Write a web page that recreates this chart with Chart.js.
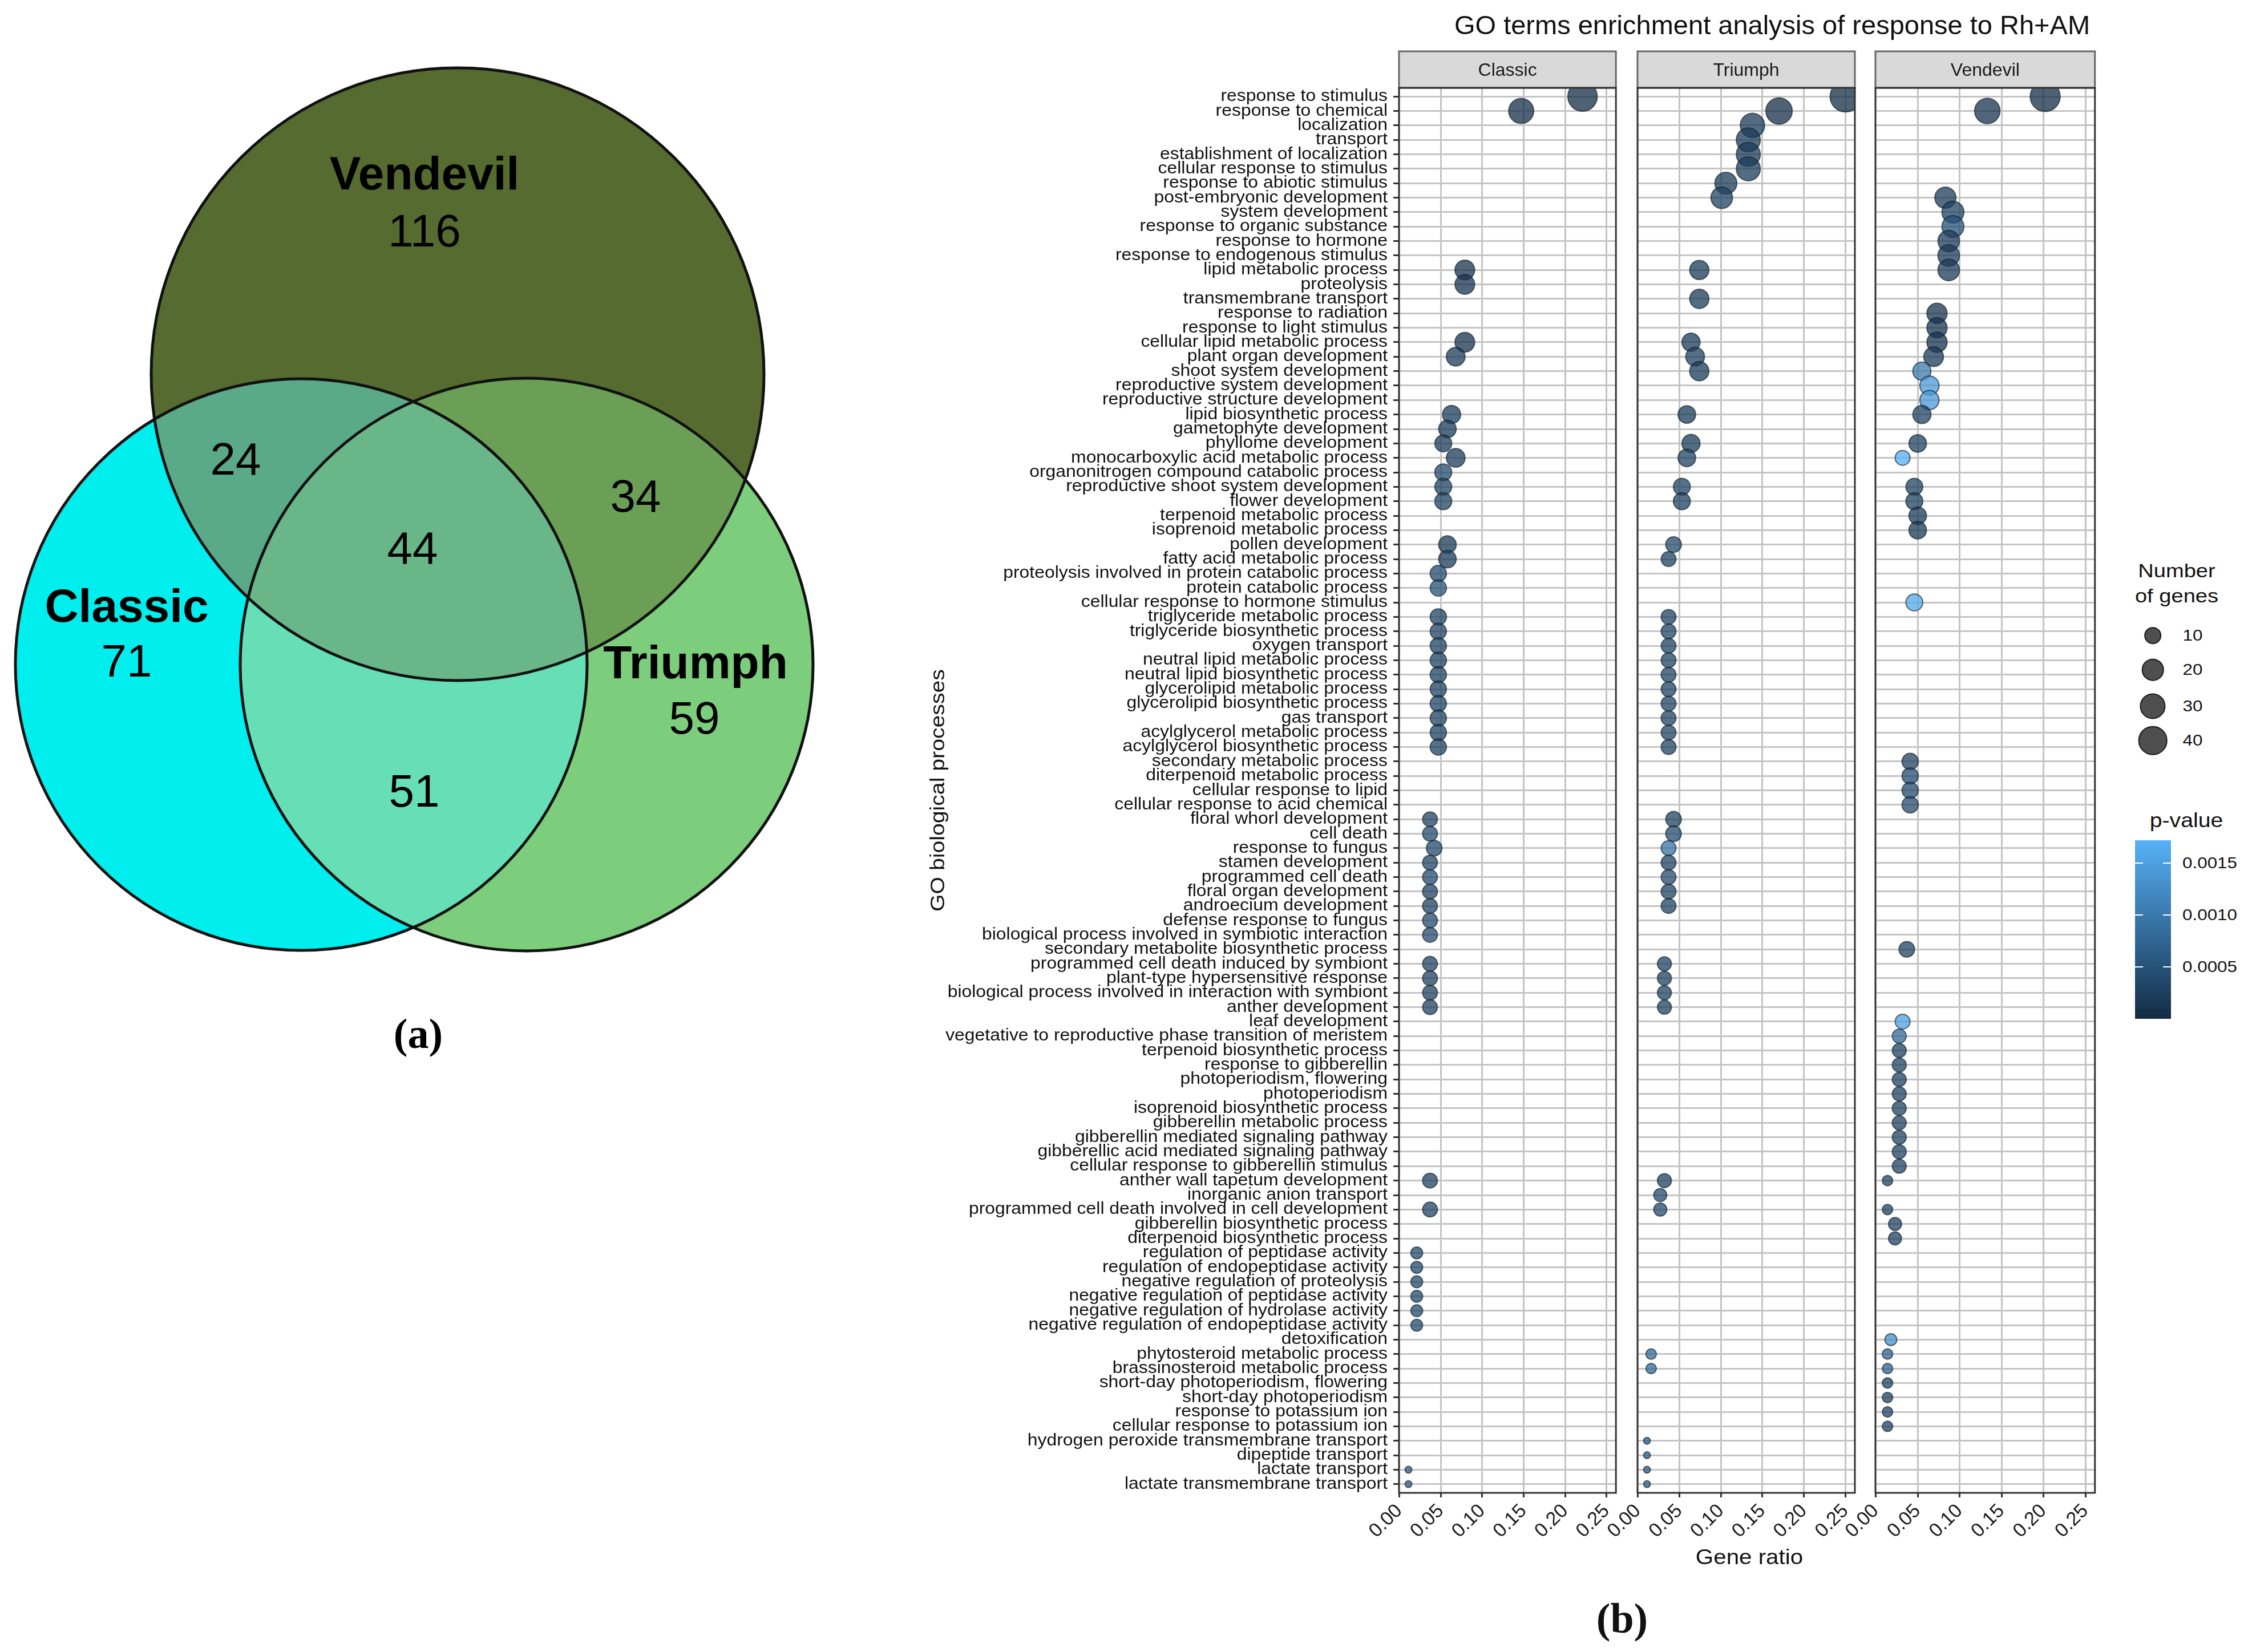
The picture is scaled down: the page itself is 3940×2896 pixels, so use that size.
<!DOCTYPE html>
<html>
<head>
<meta charset="utf-8">
<title>Venn + GO enrichment</title>
<script src="https://cdn.jsdelivr.net/npm/chart.js@4.4.1/dist/chart.umd.min.js"></script>
<style>
  html, body { margin: 0; padding: 0; background: #fff; }
  #page { position: relative; width: 3940px; height: 2896px; overflow: hidden; background: #fff;
          font-family: "Liberation Sans", Arial, sans-serif; color: #111; }
  canvas { position: absolute; }
  .txt { position: absolute; white-space: nowrap; line-height: 1; transform: translate(-50%, -50%); }
  .wide { transform: translate(-50%, -50%) scaleX(1.12); }
  .key { position: absolute; border-radius: 50%; background: rgba(35,35,35,0.8); border: 2px solid #1a1a1a;
         transform: translate(-50%, -50%); box-sizing: border-box; }
</style>
</head>
<body>
<div id="page">
  <canvas id="venn" width="1630" height="1900" style="left:0;top:0"></canvas>
  <canvas id="pClassic" width="1260" height="2896" style="left:1600px;top:0"></canvas>
  <canvas id="pTriumph" width="520" height="2896" style="left:2760px;top:0"></canvas>
  <canvas id="pVendevil" width="520" height="2896" style="left:3180px;top:0"></canvas>

  <div class="txt" style="left:3106px;top:43px;font-size:47px">GO terms enrichment analysis of response to Rh+AM</div>
  <div class="txt wide" style="left:3066px;top:2730px;font-size:36px">Gene ratio</div>
  <div class="txt" style="left:2843px;top:2837px;font-size:74px;font-weight:bold;font-family:'Liberation Serif',serif">(b)</div>

  <div class="txt wide" style="left:3815px;top:1000px;font-size:34px">Number</div>
  <div class="txt wide" style="left:3815px;top:1044px;font-size:34px">of genes</div>
  <div id="sizeKeys"></div>
  <div class="txt wide" style="left:3832px;top:1437px;font-size:35px">p-value</div>
  <div id="colorBar" style="position:absolute;left:3742px;top:1473px;width:63px;height:313px;
       background:linear-gradient(to top, #132B43, #56B1F7)"></div>
  <div id="colorKeys"></div>
</div>

<script>
// ---- Venn diagram (a) ----
const vennSets = ['Vendevil', 'Classic', 'Triumph'];
const vennRegions = ['Vendevil', 'Classic', 'Triumph', 'Classic+Vendevil', 'Vendevil+Triumph', 'Classic+Triumph', 'all three'];
const vennCounts = [116, 71, 59, 24, 34, 51, 44];

// ---- GO terms (b) ----
const _ = null;
const terms = [
  'response to stimulus', 'response to chemical', 'localization', 'transport', 'establishment of localization',
  'cellular response to stimulus', 'response to abiotic stimulus', 'post-embryonic development', 'system development', 'response to organic substance',
  'response to hormone', 'response to endogenous stimulus', 'lipid metabolic process', 'proteolysis', 'transmembrane transport',
  'response to radiation', 'response to light stimulus', 'cellular lipid metabolic process', 'plant organ development', 'shoot system development',
  'reproductive system development', 'reproductive structure development', 'lipid biosynthetic process', 'gametophyte development', 'phyllome development',
  'monocarboxylic acid metabolic process', 'organonitrogen compound catabolic process', 'reproductive shoot system development', 'flower development', 'terpenoid metabolic process',
  'isoprenoid metabolic process', 'pollen development', 'fatty acid metabolic process', 'proteolysis involved in protein catabolic process', 'protein catabolic process',
  'cellular response to hormone stimulus', 'triglyceride metabolic process', 'triglyceride biosynthetic process', 'oxygen transport', 'neutral lipid metabolic process',
  'neutral lipid biosynthetic process', 'glycerolipid metabolic process', 'glycerolipid biosynthetic process', 'gas transport', 'acylglycerol metabolic process',
  'acylglycerol biosynthetic process', 'secondary metabolic process', 'diterpenoid metabolic process', 'cellular response to lipid', 'cellular response to acid chemical',
  'floral whorl development', 'cell death', 'response to fungus', 'stamen development', 'programmed cell death',
  'floral organ development', 'androecium development', 'defense response to fungus', 'biological process involved in symbiotic interaction', 'secondary metabolite biosynthetic process',
  'programmed cell death induced by symbiont', 'plant-type hypersensitive response', 'biological process involved in interaction with symbiont', 'anther development', 'leaf development',
  'vegetative to reproductive phase transition of meristem', 'terpenoid biosynthetic process', 'response to gibberellin', 'photoperiodism, flowering', 'photoperiodism',
  'isoprenoid biosynthetic process', 'gibberellin metabolic process', 'gibberellin mediated signaling pathway', 'gibberellic acid mediated signaling pathway', 'cellular response to gibberellin stimulus',
  'anther wall tapetum development', 'inorganic anion transport', 'programmed cell death involved in cell development', 'gibberellin biosynthetic process', 'diterpenoid biosynthetic process',
  'regulation of peptidase activity', 'regulation of endopeptidase activity', 'negative regulation of proteolysis', 'negative regulation of peptidase activity', 'negative regulation of hydrolase activity',
  'negative regulation of endopeptidase activity', 'detoxification', 'phytosteroid metabolic process', 'brassinosteroid metabolic process', 'short-day photoperiodism, flowering',
  'short-day photoperiodism', 'response to potassium ion', 'cellular response to potassium ion', 'hydrogen peroxide transmembrane transport', 'dipeptide transport',
  'lactate transport', 'lactate transmembrane transport'
];

// Classic (rows 1-10, 11-20, ...)
const classicRatio = [
  0.221, 0.147, _, _, _, _, _, _, _, _,
  _, _, 0.079, 0.079, _, _, _, 0.079, 0.068, _,
  _, _, 0.063, 0.058, 0.053, 0.068, 0.053, 0.053, 0.053, _,
  _, 0.058, 0.058, 0.047, 0.047, _, 0.047, 0.047, 0.047, 0.047,
  0.047, 0.047, 0.047, 0.047, 0.047, 0.047, _, _, _, _,
  0.037, 0.037, 0.042, 0.037, 0.037, 0.037, 0.037, 0.037, 0.037, _,
  0.037, 0.037, 0.037, 0.037, _, _, _, _, _, _,
  _, _, _, _, _, 0.037, _, 0.037, _, _,
  0.021, 0.021, 0.021, 0.021, 0.021, 0.021, _, _, _, _,
  _, _, _, _, _, 0.011, 0.011
];
const classicGenes = [
  42, 28, _, _, _, _, _, _, _, _,
  _, _, 15, 15, _, _, _, 15, 13, _,
  _, _, 12, 11, 10, 13, 10, 10, 10, _,
  _, 11, 11, 9, 9, _, 9, 9, 9, 9,
  9, 9, 9, 9, 9, 9, _, _, _, _,
  7, 7, 8, 7, 7, 7, 7, 7, 7, _,
  7, 7, 7, 7, _, _, _, _, _, _,
  _, _, _, _, _, 7, _, 7, _, _,
  4, 4, 4, 4, 4, 4, _, _, _, _,
  _, _, _, _, _, 2, 2
];
const classicP = [
  0.00002, 0.00005, _, _, _, _, _, _, _, _,
  _, _, 0.0001, 0.0001, _, _, _, 0.0001, 0.0002, _,
  _, _, 0.0002, 0.0002, 0.0002, 0.0002, 0.0004, 0.0003, 0.0003, _,
  _, 0.0002, 0.0002, 0.0004, 0.0005, _, 0.0003, 0.0003, 0.0003, 0.0003,
  0.0003, 0.0003, 0.0003, 0.0003, 0.0003, 0.0003, _, _, _, _,
  0.0003, 0.0004, 0.0004, 0.0003, 0.0004, 0.0003, 0.0003, 0.0004, 0.0004, _,
  0.0003, 0.0003, 0.0003, 0.0003, _, _, _, _, _, _,
  _, _, _, _, _, 0.0003, _, 0.0003, _, _,
  0.0004, 0.0004, 0.0004, 0.0004, 0.0004, 0.0004, _, _, _, _,
  _, _, _, _, _, 0.0006, 0.0006
];

// Triumph
const triumphRatio = [
  0.250, 0.170, 0.138, 0.133, 0.133, 0.133, 0.106, 0.101, _, _,
  _, _, 0.074, _, 0.074, _, _, 0.064, 0.069, 0.074,
  _, _, 0.059, _, 0.064, 0.059, _, 0.053, 0.053, _,
  _, 0.043, 0.037, _, _, _, 0.037, 0.037, 0.037, 0.037,
  0.037, 0.037, 0.037, 0.037, 0.037, 0.037, _, _, _, _,
  0.043, 0.043, 0.037, 0.037, 0.037, 0.037, 0.037, _, _, _,
  0.032, 0.032, 0.032, 0.032, _, _, _, _, _, _,
  _, _, _, _, _, 0.032, 0.027, 0.027, _, _,
  _, _, _, _, _, _, _, 0.016, 0.016, _,
  _, _, _, 0.011, 0.011, 0.011, 0.011
];
const triumphGenes = [
  47, 32, 26, 25, 25, 25, 20, 19, _, _,
  _, _, 14, _, 14, _, _, 12, 13, 14,
  _, _, 11, _, 12, 11, _, 10, 10, _,
  _, 8, 7, _, _, _, 7, 7, 7, 7,
  7, 7, 7, 7, 7, 7, _, _, _, _,
  8, 8, 7, 7, 7, 7, 7, _, _, _,
  6, 6, 6, 6, _, _, _, _, _, _,
  _, _, _, _, _, 6, 5, 5, _, _,
  _, _, _, _, _, _, _, 3, 3, _,
  _, _, _, 2, 2, 2, 2
];
const triumphP = [
  0.00002, 0.00005, 0.0002, 0.0002, 0.0002, 0.0002, 0.0002, 0.0003, _, _,
  _, _, 0.0002, _, 0.0002, _, _, 0.0002, 0.0003, 0.0002,
  _, _, 0.0002, _, 0.0002, 0.0003, _, 0.0003, 0.0003, _,
  _, 0.0004, 0.0003, _, _, _, 0.0003, 0.0003, 0.0003, 0.0003,
  0.0003, 0.0003, 0.0003, 0.0003, 0.0003, 0.0003, _, _, _, _,
  0.0003, 0.0004, 0.0009, 0.0003, 0.0004, 0.0003, 0.0003, _, _, _,
  0.0003, 0.0003, 0.0003, 0.0003, _, _, _, _, _, _,
  _, _, _, _, _, 0.0003, 0.0004, 0.0004, _, _,
  _, _, _, _, _, _, _, 0.0008, 0.0008, _,
  _, _, _, 0.0006, 0.0006, 0.0006, 0.0006
];

// Vendevil
const vendevilRatio = [
  0.202, 0.133, _, _, _, _, _, 0.083, 0.092, 0.092,
  0.087, 0.087, 0.087, _, _, 0.073, 0.073, 0.073, 0.069, 0.055,
  0.064, 0.064, 0.055, _, 0.050, 0.032, _, 0.046, 0.046, 0.050,
  0.050, _, _, _, _, 0.046, _, _, _, _,
  _, _, _, _, _, _, 0.041, 0.041, 0.041, 0.041,
  _, _, _, _, _, _, _, _, _, 0.037,
  _, _, _, _, 0.032, 0.028, 0.028, 0.028, 0.028, 0.028,
  0.028, 0.028, 0.028, 0.028, 0.028, 0.014, _, 0.014, 0.023, 0.023,
  _, _, _, _, _, _, 0.018, 0.014, 0.014, 0.014,
  0.014, 0.014, 0.014, _, _, _, _
];
const vendevilGenes = [
  44, 29, _, _, _, _, _, 18, 20, 20,
  19, 19, 19, _, _, 16, 16, 16, 15, 12,
  14, 14, 12, _, 11, 7, _, 10, 10, 11,
  11, _, _, _, _, 10, _, _, _, _,
  _, _, _, _, _, _, 9, 9, 9, 9,
  _, _, _, _, _, _, _, _, _, 8,
  _, _, _, _, 7, 6, 6, 6, 6, 6,
  6, 6, 6, 6, 6, 3, _, 3, 5, 5,
  _, _, _, _, _, _, 4, 3, 3, 3,
  3, 3, 3, _, _, _, _
];
const vendevilP = [
  0.00002, 0.0001, _, _, _, _, _, 0.0002, 0.0003, 0.0005,
  0.0002, 0.0002, 0.0002, _, _, 0.0001, 0.0001, 0.0001, 0.0002, 0.0010,
  0.0014, 0.0014, 0.0003, _, 0.0003, 0.0017, _, 0.0003, 0.0003, 0.0002,
  0.0002, _, _, _, _, 0.0016, _, _, _, _,
  _, _, _, _, _, _, 0.0003, 0.0004, 0.0004, 0.0004,
  _, _, _, _, _, _, _, _, _, 0.0003,
  _, _, _, _, 0.0015, 0.0008, 0.0003, 0.0003, 0.0003, 0.0003,
  0.0003, 0.0003, 0.0003, 0.0003, 0.0003, 0.0003, _, 0.0003, 0.0003, 0.0003,
  _, _, _, _, _, _, 0.0013, 0.0007, 0.0007, 0.0003,
  0.0003, 0.0003, 0.0003, _, _, _, _
];

const xTicksStep = 0.05;
const sizeLegend = [10, 20, 30, 40];
const pLegend = [0.0005, 0.0010, 0.0015];

// ---- scales / styles ----
const X_MIN = -0.0004, X_MAX = 0.2613;
const P_MAX = 0.00172;
const LOW = [19, 43, 67], HIGH = [86, 177, 247];
const FONT = '"Liberation Sans", Arial, sans-serif';

Chart.defaults.font.family = FONT;

function pColor(p, a) {
  const t = Math.max(0, Math.min(1, p / P_MAX));
  const c = LOW.map((v, i) => Math.round(v + (HIGH[i] - v) * t));
  return 'rgba(' + c[0] + ',' + c[1] + ',' + c[2] + ',' + a + ')';
}
function sizeFor(n) {
  return 6 + 21 * Math.sqrt(Math.max(0, n - 2) / 45);
}

// Venn layout (in the Venn chart's axis units)
const VENN_CIRCLES = [ {x: 802, y: 656, r: 537}, {x: 528, y: 1165, r: 501}, {x: 923, y: 1165, r: 502} ];
const VENN_NAME_POS = [ {x: 744, y: 309}, {x: 222, y: 1067}, {x: 1219, y: 1166} ];
const VENN_COUNT_POS = [ {x: 744, y: 410}, {x: 222, y: 1164}, {x: 1217, y: 1264}, {x: 413, y: 810}, {x: 1114, y: 875}, {x: 726, y: 1392}, {x: 723, y: 966} ];
const REGION_COLORS = {
  V: '#556B2F', C: '#00EEEE', T: '#7CCD7C',
  CV: '#5AAA8A', VT: '#6B9F55', CT: '#66DFB7', CVT: '#69B689'
};

const vennFill = {
  id: 'vennFill',
  beforeDatasetsDraw(chart) {
    const ctx = chart.ctx, sx = chart.scales.x, sy = chart.scales.y;
    const paths = VENN_CIRCLES.map(c => {
      const cx = sx.getPixelForValue(c.x), cy = sy.getPixelForValue(c.y);
      const r = Math.abs(sx.getPixelForValue(c.x + c.r) - cx);
      const p = new Path2D();
      p.arc(cx, cy, r, 0, Math.PI * 2);
      return p;
    });
    const [V, C, T] = paths;
    const paint = (clips, shape, color) => {
      ctx.save();
      clips.forEach(c => ctx.clip(c));
      ctx.fillStyle = color;
      ctx.fill(shape);
      ctx.restore();
    };
    paint([], V, REGION_COLORS.V);
    paint([], C, REGION_COLORS.C);
    paint([C], V, REGION_COLORS.CV);
    paint([], T, REGION_COLORS.T);
    paint([V], T, REGION_COLORS.VT);
    paint([C], T, REGION_COLORS.CT);
    paint([C, V], T, REGION_COLORS.CVT);
    ctx.save();
    ctx.strokeStyle = '#111';
    ctx.lineWidth = 5;
    paths.forEach(p => ctx.stroke(p));
    ctx.restore();
  },
  afterDatasetsDraw(chart) {
    const ctx = chart.ctx, sx = chart.scales.x, sy = chart.scales.y;
    const counts = chart.getDatasetMeta(0).data;
    ctx.save();
    ctx.fillStyle = '#000';
    ctx.textAlign = 'center';
    ctx.textBaseline = 'middle';
    ctx.font = 'bold 82px ' + FONT;
    vennSets.forEach((s, i) => ctx.fillText(s, sx.getPixelForValue(VENN_NAME_POS[i].x), sy.getPixelForValue(VENN_NAME_POS[i].y)));
    ctx.font = '80px ' + FONT;
    counts.forEach((el, i) => ctx.fillText(String(vennCounts[i]), el.x, el.y));
    ctx.font = 'bold 74px "Liberation Serif", serif';
    ctx.fillText('(a)', sx.getPixelForValue(733), sy.getPixelForValue(1818));
    ctx.restore();
  }
};

new Chart(document.getElementById('venn'), {
  type: 'scatter',
  data: {
    datasets: [{
      label: 'region counts',
      data: VENN_COUNT_POS.map(p => ({x: p.x, y: p.y})),
      pointRadius: 0,
      clip: false
    }]
  },
  options: {
    responsive: false, devicePixelRatio: 1, animation: false, events: [],
    layout: { padding: 0 },
    scales: {
      x: { type: 'linear', display: false, min: 0, max: 1630 },
      y: { type: 'linear', display: false, min: 0, max: 1900, reverse: true }
    },
    plugins: { legend: { display: false }, tooltip: { enabled: false } }
  },
  plugins: [vennFill]
});

// ---- facet panels ----
const STRIP_TOP = 90;

const panelFrame = {
  id: 'panelFrame',
  afterDraw(chart, args, opts) {
    const ctx = chart.ctx, a = chart.chartArea;
    ctx.save();
    ctx.fillStyle = '#d9d9d9';
    ctx.fillRect(a.left, STRIP_TOP, a.right - a.left, a.top - STRIP_TOP);
    ctx.strokeStyle = '#666';
    ctx.lineWidth = 3;
    ctx.strokeRect(a.left, STRIP_TOP, a.right - a.left, a.top - STRIP_TOP);
    ctx.fillStyle = '#1a1a1a';
    ctx.font = '32px ' + FONT;
    ctx.textAlign = 'center';
    ctx.textBaseline = 'alphabetic';
    ctx.fillText(opts.name, (a.left + a.right) / 2, 133);
    ctx.strokeStyle = '#333';
    ctx.lineWidth = 3;
    ctx.strokeRect(a.left, a.top, a.right - a.left, a.bottom - a.top);

    if (opts.first) {
      const ys = chart.scales.y;
      ctx.fillStyle = '#111';
      ctx.font = '29px ' + FONT;
      ctx.textAlign = 'right';
      ctx.textBaseline = 'middle';
      terms.forEach((t, i) => {
        ctx.save();
        ctx.translate(a.left - 20, ys.getPixelForValue(i));
        ctx.scale(1.1, 1);
        ctx.fillText(t, 0, 0);
        ctx.restore();
      });
      ctx.save();
      ctx.translate(45, (a.top + a.bottom) / 2);
      ctx.rotate(-Math.PI / 2);
      ctx.scale(1.12, 1);
      ctx.textAlign = 'center';
      ctx.font = '35px ' + FONT;
      ctx.fillText('GO biological processes', 0, 0);
      ctx.restore();
    }
    ctx.restore();
  }
};

function makePanel(id, name, ratio, genes, pvals, padL, padR, first) {
  const points = [];
  ratio.forEach((v, k) => {
    if (v !== null) points.push({x: v, y: k, n: genes[k], p: pvals[k]});
  });
  return new Chart(document.getElementById(id), {
    type: 'bubble',
    data: {
      datasets: [{
        data: points,
        radius: c => sizeFor(c.raw.n),
        backgroundColor: c => pColor(c.raw.p, 0.75),
        borderColor: 'rgba(15,30,45,0.65)',
        borderWidth: 2,
        clip: 0
      }]
    },
    options: {
      responsive: false, devicePixelRatio: 1, animation: false, events: [],
      layout: { padding: { left: padL, right: padR, top: 154, bottom: 179 } },
      scales: {
        x: {
          type: 'linear', min: X_MIN, max: X_MAX,
          afterFit: s => { s.height = 100; s.paddingLeft = 0; s.paddingRight = 0; },
          grid: { color: '#c4c4c4', lineWidth: 3, drawTicks: true, tickLength: 8, tickColor: '#333', tickWidth: 3 },
          border: { display: false },
          ticks: {
            stepSize: xTicksStep, includeBounds: false, autoSkip: false,
            maxRotation: 45, minRotation: 45, padding: 4,
            color: '#1a1a1a', font: { size: 34 },
            callback: v => Number(v).toFixed(2)
          }
        },
        y: {
          type: 'linear', reverse: true, min: -0.6, max: terms.length - 0.4,
          afterFit: s => { s.width = first ? 852 : 0; s.paddingTop = 0; s.paddingBottom = 0; },
          grid: { color: '#c4c4c4', lineWidth: 3, drawTicks: first, tickLength: 10, tickColor: '#333', tickWidth: 3 },
          border: { display: false },
          ticks: { display: false, stepSize: 1, includeBounds: false, autoSkip: false }
        }
      },
      plugins: { legend: { display: false }, tooltip: { enabled: false }, panelFrame: { name: name, first: first } }
    },
    plugins: [panelFrame]
  });
}

makePanel('pClassic', 'Classic', classicRatio, classicGenes, classicP, 0, 11, true);
makePanel('pTriumph', 'Triumph', triumphRatio, triumphGenes, triumphP, 110, 16, false);
makePanel('pVendevil', 'Vendevil', vendevilRatio, vendevilGenes, vendevilP, 107, 19, false);

// ---- legends ----
const keyBox = document.getElementById('sizeKeys');
const keyY = [1114, 1174, 1238, 1298];
sizeLegend.forEach((n, i) => {
  const d = 2 * sizeFor(n);
  const k = document.createElement('div');
  k.className = 'key';
  k.style.cssText = 'left:3773px;top:' + keyY[i] + 'px;width:' + d + 'px;height:' + d + 'px';
  keyBox.appendChild(k);
  const t = document.createElement('div');
  t.className = 'txt wide';
  t.style.cssText = 'left:3843px;top:' + keyY[i] + 'px;font-size:28px';
  t.textContent = String(n);
  keyBox.appendChild(t);
});

const cBox = document.getElementById('colorKeys');
const BAR_TOP = 1473, BAR_H = 313, BAR_L = 3742, BAR_W = 63;
pLegend.forEach(p => {
  const y = BAR_TOP + BAR_H - p / P_MAX * BAR_H;
  [BAR_L, BAR_L + BAR_W - 14].forEach(x => {
    const m = document.createElement('div');
    m.style.cssText = 'position:absolute;left:' + x + 'px;top:' + (y - 1) + 'px;width:14px;height:2px;background:#fff';
    cBox.appendChild(m);
  });
  const t = document.createElement('div');
  t.className = 'txt wide';
  t.style.cssText = 'left:3873px;top:' + y + 'px;font-size:28px';
  t.textContent = p.toFixed(4);
  cBox.appendChild(t);
});
</script>
</body>
</html>
